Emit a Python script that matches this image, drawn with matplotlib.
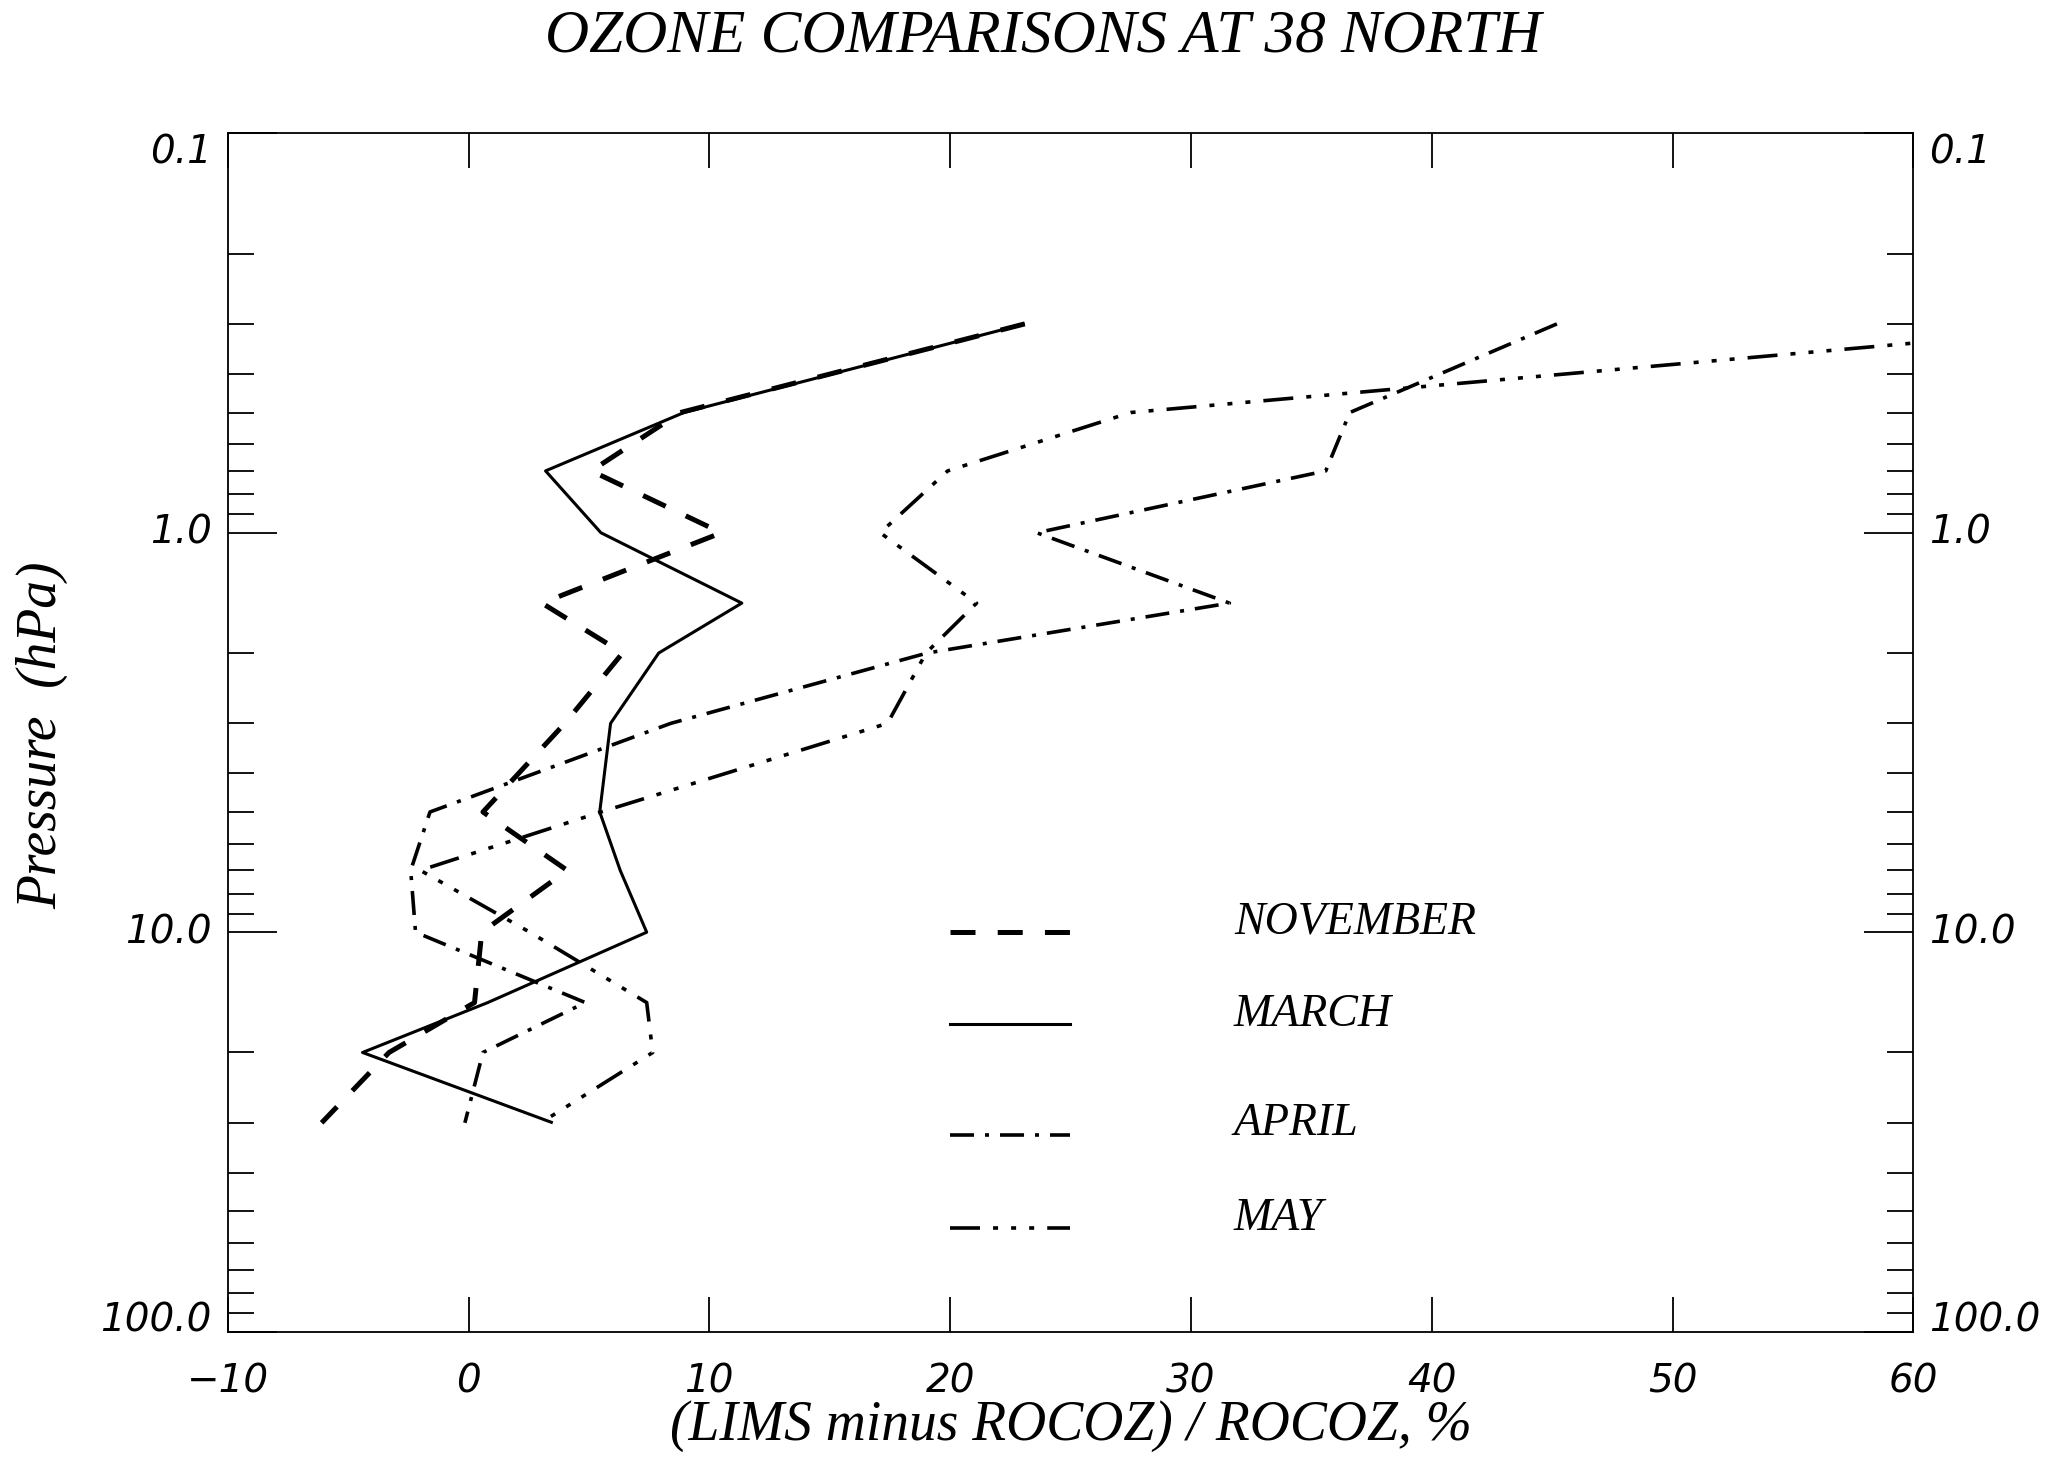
import matplotlib
matplotlib.use('Agg')
import matplotlib.pyplot as plt
from matplotlib.lines import Line2D
from matplotlib.ticker import LogLocator, NullFormatter, NullLocator

# ---------------- data ----------------
pressure = [0.3, 0.5, 0.7, 1.0, 1.5, 2.0, 3.0, 5.0, 7.0, 10.0, 15.0, 20.0, 30.0]
november = [23.1, 8.8, 5.1, 10.5, 3.05, 6.4, 4.0, 0.6, 4.1, 0.55, 0.25, -3.3, -6.1]
march = [23.1, 8.95, 3.2, 5.5, 11.35, 7.9, 5.9, 5.45, 6.3, 7.4, 0.8, -4.4, 3.5]
april = [45.2, 36.6, 35.6, 23.6, 31.6, 19.05, 8.4, -1.6, -2.4, -2.2, 4.85, 0.6, -0.15]
may = [69.0, 27.5, 19.9, 17.1, 21.1, 19.0, 17.4, 5.5, -2.0, 2.55, 7.4, 7.65, 3.0]

months = ['NOVEMBER', 'MARCH', 'APRIL', 'MAY']
x_ticks = [-10, 0, 10, 20, 30, 40, 50, 60]
x_tick_labels = ['\u221210', '0', '10', '20', '30', '40', '50', '60']
y_major = [0.1, 1.0, 10.0, 100.0]
y_labels = ['0.1', '1.0', '10.0', '100.0']

title = 'OZONE COMPARISONS AT 38 NORTH'
xlabel = '(LIMS minus ROCOZ) / ROCOZ, %'
ylabel = 'Pressure  (hPa)'

# ---------------- figure ----------------
plt.rcParams['lines.scale_dashes'] = False
W, H = 2067, 1469
fig = plt.figure(figsize=(W / 100, H / 100), dpi=100)
L, R, T, B = 227.7, 1913.3, 133.3, 1331.7
ax = fig.add_axes([L / W, (H - B) / H, (R - L) / W, (B - T) / H])

styles = {
    'NOVEMBER': dict(color='black', lw=3.6, dashes=(18, 16)),
    'MARCH': dict(color='black', lw=2.2, linestyle='-'),
    'APRIL': dict(color='black', lw=2.6, dashes=(17.3, 7.9, 2.9, 7.9)),
    'MAY': dict(color='black', lw=2.6,
                dashes=(21.6, 9.4, 3.6, 9.4, 3.6, 9.4, 3.6, 9.4)),
}
series = [november, march, april, may]
for name, vals in zip(months, series):
    ax.plot(vals, pressure, solid_capstyle='butt', dash_capstyle='butt',
            **styles[name])

ax.set_yscale('log')
ax.set_ylim(100, 0.1)
ax.set_xlim(-10, 60)

tick_font = dict(family='DejaVu Sans', style='italic', size=28)
ax.set_xticks(x_ticks, labels=x_tick_labels, **tick_font)
ax.set_yticks(y_major, labels=y_labels, **tick_font)
ax.yaxis.set_minor_locator(LogLocator(base=10, subs=range(2, 10)))
ax.yaxis.set_minor_formatter(NullFormatter())
ax.xaxis.set_minor_locator(NullLocator())

ax.tick_params(which='both', direction='in', top=True, right=True,
               labelright=True, width=1.3, color='black')
ax.tick_params(axis='x', which='major', length=25.2, pad=22)
ax.tick_params(axis='y', which='major', length=35.3, pad=11.5)
ax.tick_params(axis='y', which='minor', length=18.5)
for tk, txt in zip(ax.yaxis.get_major_ticks(), y_labels):
    for lab in (tk.label1, tk.label2):
        lab.set_fontfamily('DejaVu Sans')
        lab.set_fontstyle('italic')
        lab.set_fontsize(28)
        if txt == '0.1':
            lab.set_va('top')
        elif txt == '100.0':
            lab.set_va('baseline')
        else:
            lab.set_va('center')
for sp in ax.spines.values():
    sp.set_linewidth(1.3)

serif = dict(family='Liberation Serif', style='italic')

# legend (drawn inside the axes like the original)
leg_line_y = [932, 1024, 1135, 1228]
leg_text_y = [933, 1026, 1135, 1230]
for name, ly, ty in zip(months, leg_line_y, leg_text_y):
    fy = (B - ly) / (B - T)
    ax.add_line(Line2D([(950 - L) / (R - L), (1070 - L) / (R - L)], [fy, fy],
                       transform=ax.transAxes, dash_capstyle='butt',
                       **styles[name]))
    ax.text((1234 - L) / (R - L), (B - ty) / (B - T), name,
            transform=ax.transAxes, ha='left', va='baseline', size=33, **serif)

fig.text(1043 / W, 1 - 52 / H, title, ha='center', va='baseline',
         size=44, **serif)
fig.text(42 / W, 1 - 735 / H, ylabel, rotation=90, ha='center', va='center',
         size=40, **serif)
fig.text((L + R) / 2 / W, 1 - 1440 / H, xlabel, ha='center', va='baseline',
         size=40, **serif)

fig.savefig('out.png', dpi=100, facecolor='white')
